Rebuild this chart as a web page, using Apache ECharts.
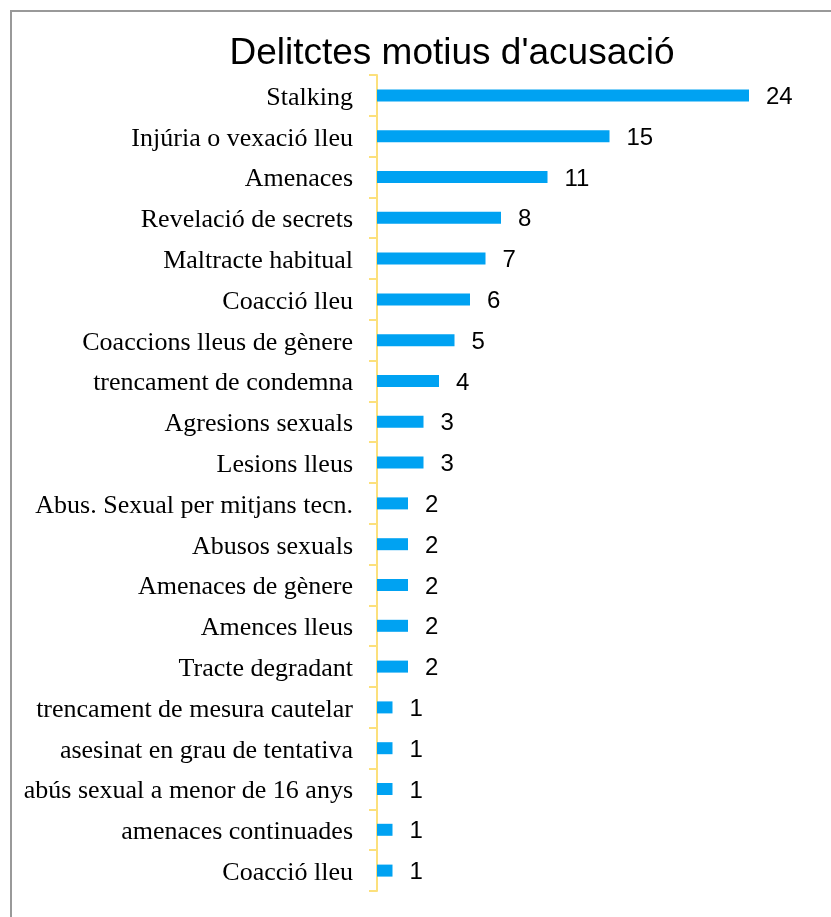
<!DOCTYPE html>
<html>
<head>
<meta charset="utf-8">
<script src="https://cdn.jsdelivr.net/npm/echarts@6/dist/echarts.min.js"></script>
<style>html,body{margin:0;padding:0;background:#fff;}#c{width:831px;height:917px;}</style>
</head>
<body>
<div id="c"></div>
<script>
const title = "Delitctes motius d'acusació";
const categories = ["Stalking","Injúria o vexació lleu","Amenaces","Revelació de secrets","Maltracte habitual","Coacció lleu","Coaccions lleus de gènere","trencament de condemna","Agresions sexuals","Lesions lleus","Abus. Sexual per mitjans tecn.","Abusos sexuals","Amenaces de gènere","Amences lleus","Tracte degradant","trencament de mesura cautelar","asesinat en grau de tentativa","abús sexual a menor de 16 anys","amenaces continuades","Coacció lleu"];
const values = [24,15,11,8,7,6,5,4,3,3,2,2,2,2,2,1,1,1,1,1];

const chart = echarts.init(document.getElementById('c'));
chart.setOption({
  backgroundColor: '#fff',
  animation: false,
  title: {
    text: title,
    left: 447, textAlign: 'center', top: 30,
    textStyle: {fontFamily: 'Liberation Sans', fontSize: 37, fontWeight: 'normal', color: '#000'}
  },
  graphic: [{
    type: 'rect', shape: {x: 11, y: 11, width: 900, height: 1000},
    style: {fill: 'none', stroke: '#999', lineWidth: 2}, z: 100
  }],
  grid: {left: 377, top: 75, bottom: 26, right: 82, containLabel: false},
  xAxis: {type: 'value', min: 0, max: 24, show: false},
  yAxis: {
    type: 'category', inverse: true, data: categories,
    axisLine: {show: true, lineStyle: {color: '#FCE07C', width: 2}},
    axisTick: {show: true, length: 8, lineStyle: {color: '#FCE07C', width: 2}},
    axisLabel: {
      margin: 24, fontFamily: 'Liberation Serif', fontSize: 26, color: '#000',
      formatter: function (v) { return '{a|' + v + '}'; },
      rich: {a: {fontFamily: 'Liberation Serif', fontSize: 26, color: '#000', padding: [5, 0, 0, 0]}}
    },
    splitLine: {show: false}
  },
  series: [{
    type: 'bar', data: values, barWidth: 12,
    itemStyle: {color: '#00A2F2'},
    label: {show: true, position: 'right', distance: 17, offset: [0, 2], fontFamily: 'Liberation Sans', fontSize: 24, color: '#000'}
  }]
});
</script>
</body>
</html>
